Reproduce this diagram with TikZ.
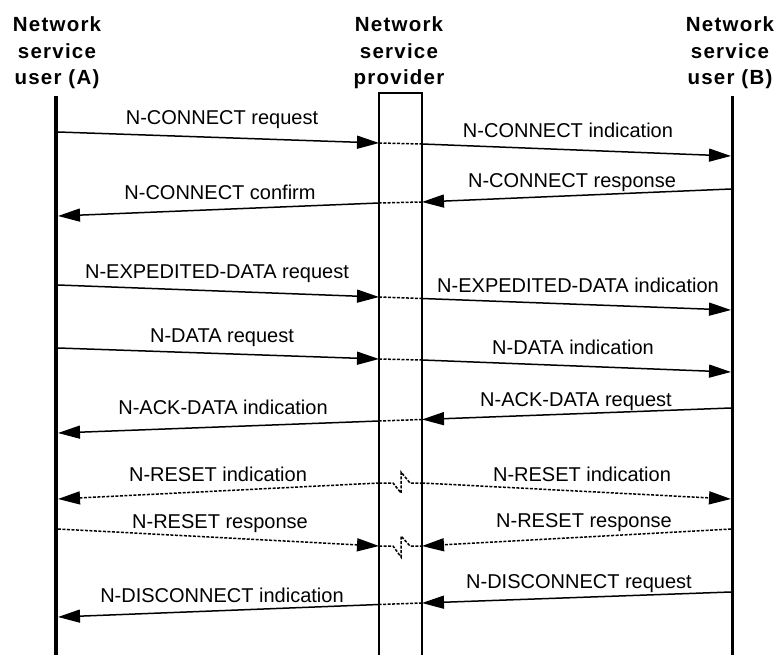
\documentclass[tikz,border=0pt]{standalone}
\usepackage{fontspec}
\setmainfont{Liberation Sans}
\newfontfamily\hdrfont[LetterSpace=6]{Liberation Sans}
\usetikzlibrary{arrows.meta}
\tikzset{
  lifeline/.style={line width=3.5pt},
  pbox/.style={line width=1.6pt},
  msg/.style={line width=1.5pt, -{Triangle[length=22pt,width=13pt]}},
  seg/.style={line width=1.5pt},
  inbox/.style={line width=1.5pt, dash pattern=on 3pt off 1.5pt},
  dmsg/.style={inbox, -{Triangle[length=22pt,width=13pt]}},
  lbl/.style={anchor=base, inner sep=0pt, font=\fontsize{20}{24}\selectfont},
  hdr/.style={anchor=north, inner sep=0pt, align=center, font=\hdrfont\bfseries\fontsize{20.5}{26.7}\selectfont},
}
\begin{document}
\begin{tikzpicture}[x=1pt,y=-1pt]
\useasboundingbox (0,0) rectangle (776,655);
% headers
\node[hdr] (hA) at (57,16.5) {Network\\service\\user (A)};
\node[hdr] (hP) at (399,16.5) {Network\\service\\provider};
\node[hdr] (hB) at (730,16.5) {Network\\service\\user (B)};
% lifelines and provider box
\coordinate (Atop) at (56,96); \coordinate (Abot) at (56,655);
\coordinate (Btop) at (732.5,96); \coordinate (Bbot) at (732.5,655);
\draw[lifeline] (Atop) -- (Abot);
\draw[lifeline] (Btop) -- (Bbot);
\coordinate (Pbl) at (379,656); \coordinate (Ptl) at (379,93);
\coordinate (Ptr) at (422,93); \coordinate (Pbr) at (422,656);
\draw[pbox] (Pbl) -- (Ptl) -- (Ptr) -- (Pbr);
% 1 connect request / indication
\coordinate (a1) at (58,132); \coordinate (l1) at (379,143);
\coordinate (r1) at (422,144); \coordinate (b1) at (731,156);
\draw[msg] (a1) -- (l1);
\draw[inbox] (l1) -- (r1);
\draw[msg] (r1) -- (b1);
\node[lbl] (t1a) at (222,125) {N-CONNECT request};
\node[lbl] (t1b) at (568,137.5) {N-CONNECT indication};
% 2 connect response / confirm
\coordinate (b2) at (731,189); \coordinate (r2) at (422,202);
\coordinate (l2) at (379,203); \coordinate (a2) at (58,216);
\draw[msg] (b2) -- (r2);
\draw[inbox] (r2) -- (l2);
\draw[msg] (l2) -- (a2);
\node[lbl] (t2a) at (220,200) {N-CONNECT confirm};
\node[lbl] (t2b) at (572,187.5) {N-CONNECT response};
% 3 expedited data
\coordinate (a3) at (58,285); \coordinate (l3) at (379,297);
\coordinate (r3) at (422,298.5); \coordinate (b3) at (731,310);
\draw[msg] (a3) -- (l3);
\draw[inbox] (l3) -- (r3);
\draw[msg] (r3) -- (b3);
\node[lbl] (t3a) at (217,278) {N-EXPEDITED-DATA request};
\node[lbl] (t3b) at (578,292) {N-EXPEDITED-DATA indication};
% 4 data
\coordinate (a4) at (58,348); \coordinate (l4) at (379,359);
\coordinate (r4) at (422,360); \coordinate (b4) at (731,372);
\draw[msg] (a4) -- (l4);
\draw[inbox] (l4) -- (r4);
\draw[msg] (r4) -- (b4);
\node[lbl] (t4a) at (222,342) {N-DATA request};
\node[lbl] (t4b) at (573,354) {N-DATA indication};
% 5 ack data
\coordinate (b5) at (731,408); \coordinate (r5) at (422,419.5);
\coordinate (l5) at (379,421); \coordinate (a5) at (58,433);
\draw[msg] (b5) -- (r5);
\draw[inbox] (r5) -- (l5);
\draw[msg] (l5) -- (a5);
\node[lbl] (t5a) at (223,414) {N-ACK-DATA indication};
\node[lbl] (t5b) at (576,406) {N-ACK-DATA request};
% 6 reset indication
\coordinate (l6) at (379,483); \coordinate (r6) at (422,483);
\coordinate (a6) at (58,499); \coordinate (b6) at (731,499);
\draw[inbox] (l6) -- (393,483) -- (401,493) -- (401,472) -- (410,483) -- (r6);
\draw[dmsg] (l6) -- (a6);
\draw[dmsg] (r6) -- (b6);
\node[lbl] (t6a) at (218,481) {N-RESET indication};
\node[lbl] (t6b) at (582,481.5) {N-RESET indication};
% 7 reset response
\coordinate (a7) at (58,529); \coordinate (l7) at (379,546);
\coordinate (b7) at (731,529); \coordinate (r7) at (422,546);
\draw[inbox] (l7) -- (393,546) -- (401,557) -- (401,536) -- (410,546) -- (r7);
\draw[dmsg] (a7) -- (l7);
\draw[dmsg] (b7) -- (r7);
\node[lbl] (t7a) at (220,528) {N-RESET response};
\node[lbl] (t7b) at (584,527) {N-RESET response};
% 8 disconnect
\coordinate (b8) at (731,592); \coordinate (r8) at (422,603);
\coordinate (l8) at (379,604.5); \coordinate (a8) at (58,617);
\draw[msg] (b8) -- (r8);
\draw[inbox] (r8) -- (l8);
\draw[msg] (l8) -- (a8);
\node[lbl] (t8a) at (222,602) {N-DISCONNECT indication};
\node[lbl] (t8b) at (579,588) {N-DISCONNECT request};
\end{tikzpicture}
\end{document}
